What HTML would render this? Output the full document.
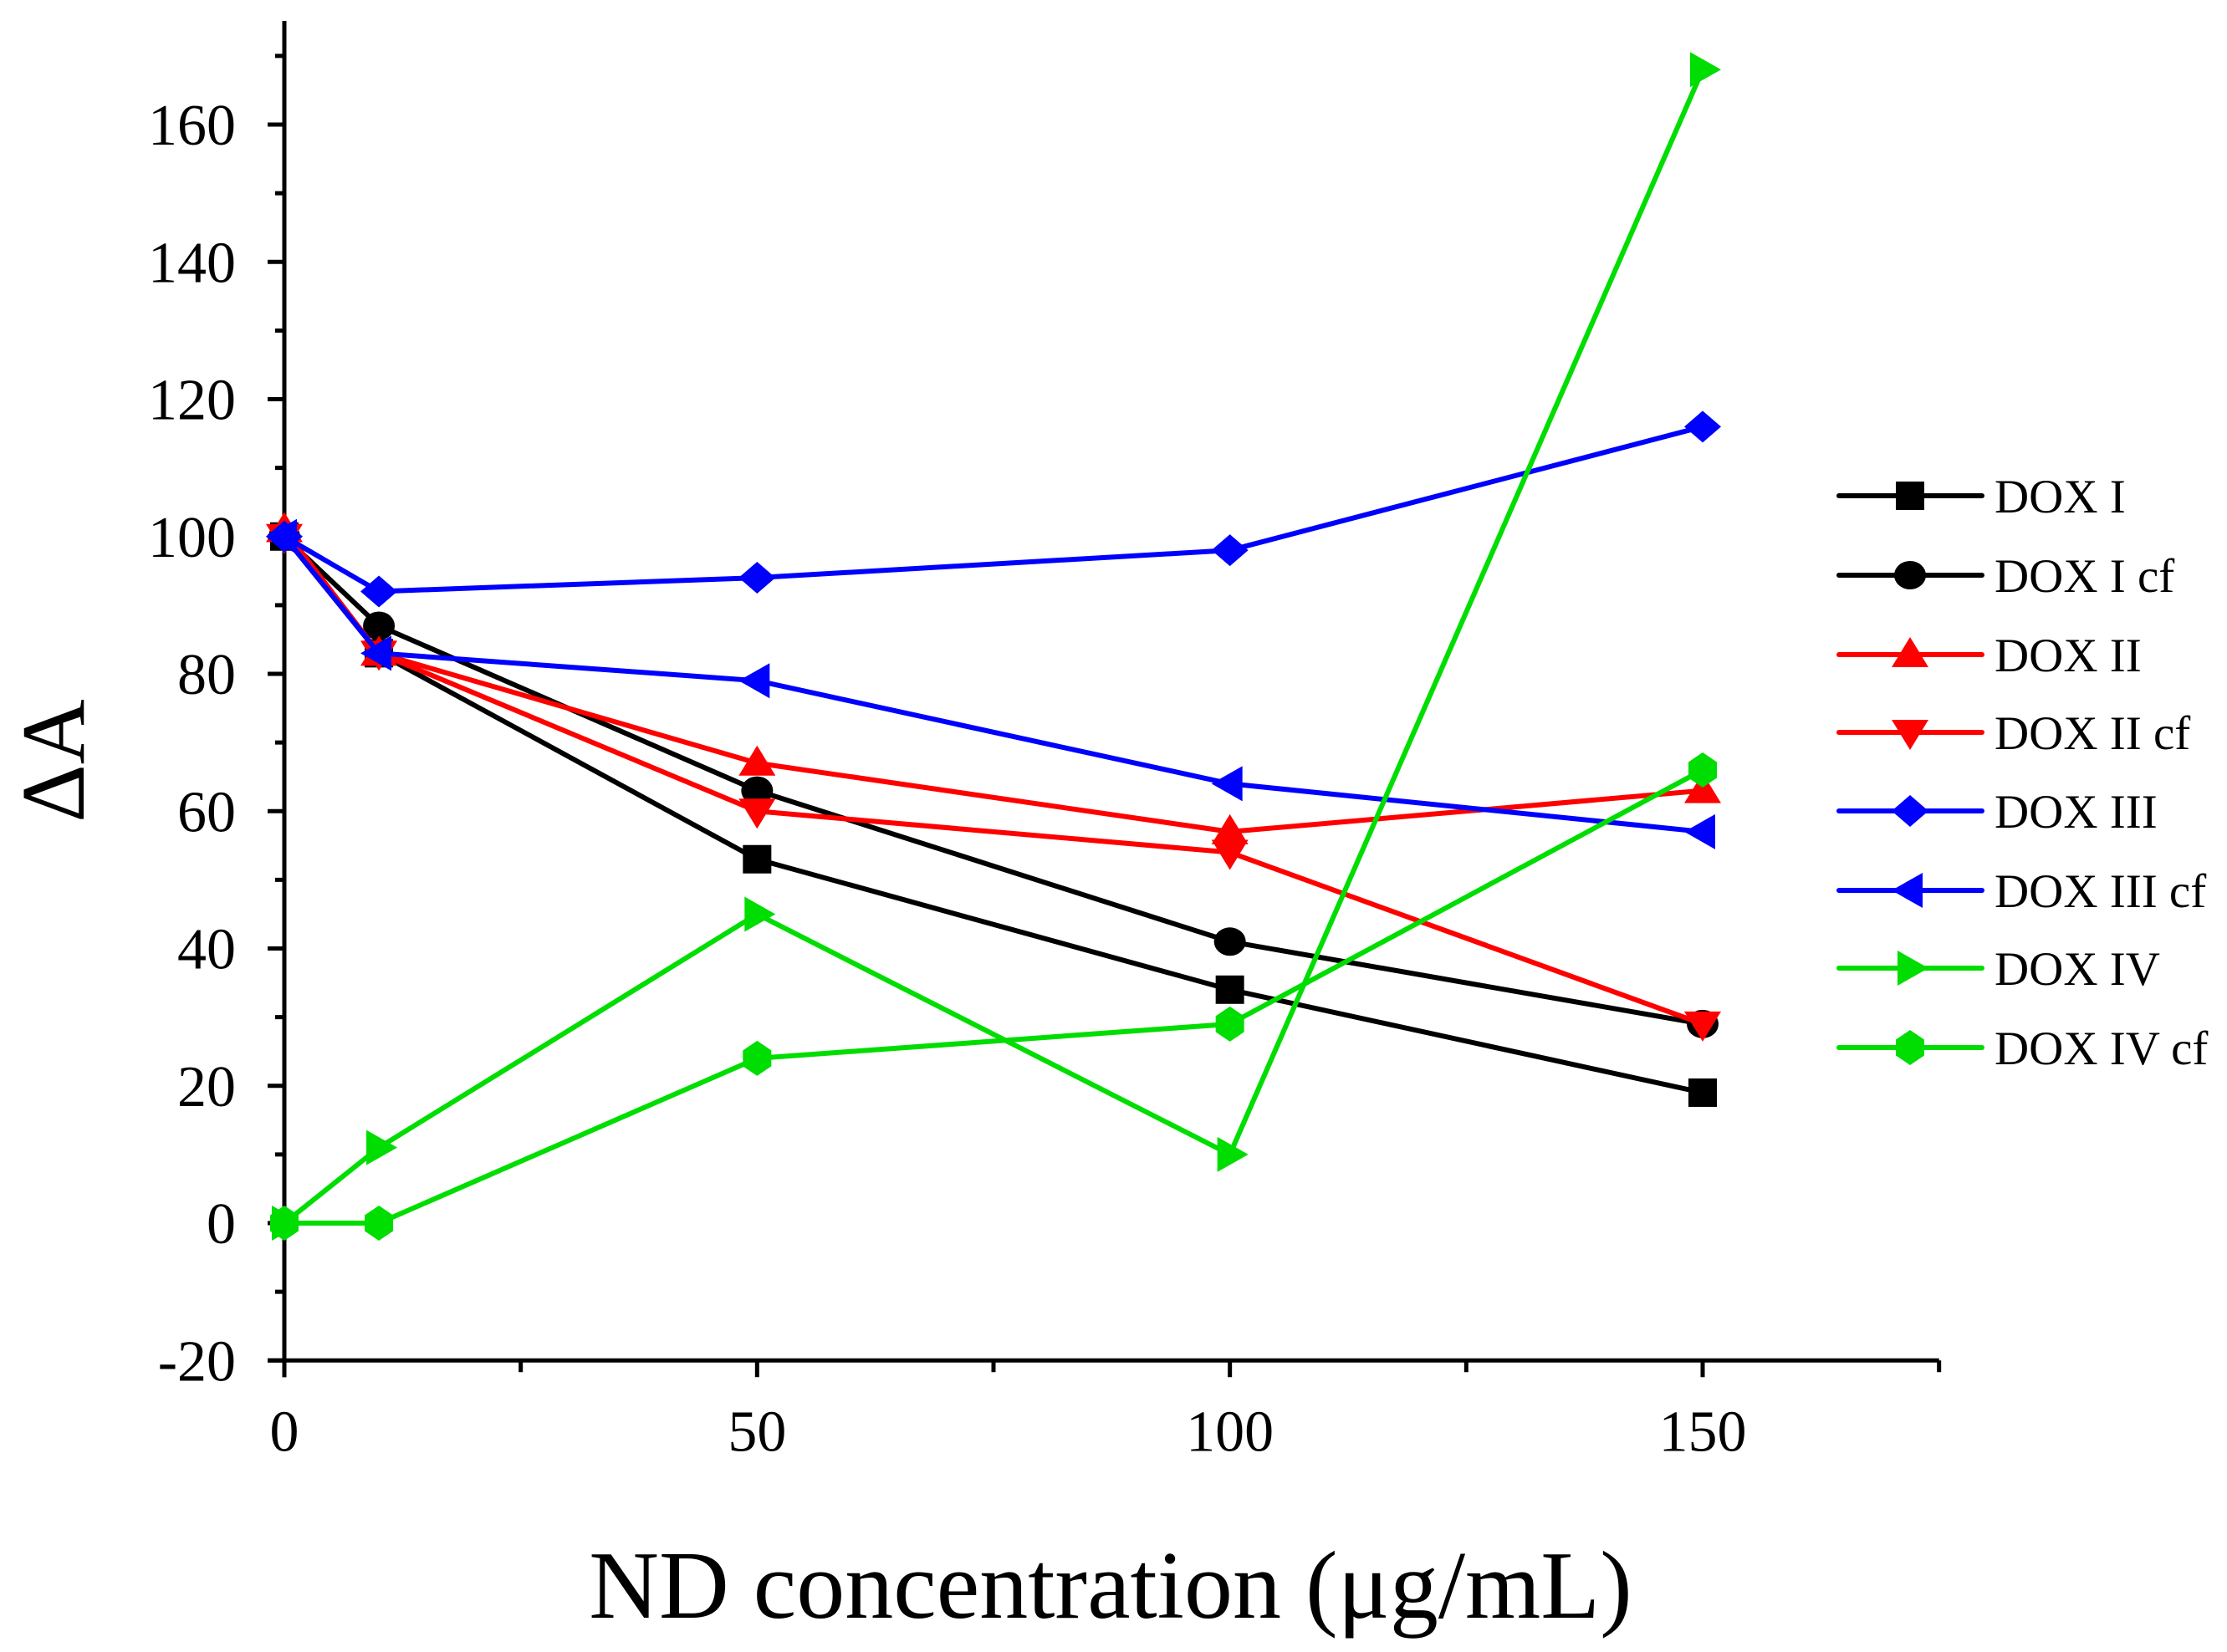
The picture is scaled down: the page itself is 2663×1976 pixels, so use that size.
<!DOCTYPE html>
<html><head><meta charset="utf-8"><style>
html,body{margin:0;padding:0;background:#fff}
svg{display:block;font-family:"Liberation Serif",serif}
</style></head><body>
<svg id="chart" width="2663" height="1976" viewBox="0 0 2663 1976" xmlns="http://www.w3.org/2000/svg">
<g id="axes"></g>
<g id="series"></g>
<g id="legend"></g>
<text x="1328" y="1935" font-size="116" text-anchor="middle">ND concentration (μg/mL)</text>
<text transform="translate(100,910) rotate(-90)" font-size="108" text-anchor="middle">ΔA</text>
</svg>
<script>
const xValues = [0, 10, 50, 100, 150];
const seriesNames = ["DOX I","DOX I cf","DOX II","DOX II cf","DOX III","DOX III cf","DOX IV","DOX IV cf"];
const doxI   = [100, 83, 53, 34, 19];
const doxIcf = [100, 87, 63, 41, 29];
const doxII  = [101, 83, 67, 57, 63];
const doxIIcf= [100, 83, 60, 54, 29];
const doxIII = [100, 92, 94, 98, 116];
const doxIIIcf=[100, 83, 79, 64, 57];
const doxIV  = [0, 11, 45, 10, 168];
const doxIVcf= [0, 0, 24, 29, 66];
const xTicks = [0, 50, 100, 150];
const yTicks = [-20, 0, 20, 40, 60, 80, 100, 120, 140, 160];

const NS="http://www.w3.org/2000/svg";
const X0=340, X1=2036, Y0=1463, Y160=149;
const sx=v=>X0+(v/150)*(X1-X0);
const sy=v=>Y0-(v/160)*(Y0-Y160);
function mk(tag,attrs,parent){const e=document.createElementNS(NS,tag);for(const k in attrs)e.setAttribute(k,attrs[k]);parent.appendChild(e);return e;}
const axes=document.getElementById('axes');
const yBottom=sy(-20), yTop=25, xRight=sx(175);
let e;
e=mk('line',{x1:X0,y1:yTop,x2:X0,y2:yBottom+20,stroke:'#000','stroke-width':5},axes);


e=mk('line',{x1:X0-20,y1:yBottom,x2:xRight,y2:yBottom,stroke:'#000','stroke-width':5},axes);


for(let v=-10;v<=170;v+=20){mk('line',{x1:X0-11,y1:sy(v),x2:X0,y2:sy(v),stroke:'#000','stroke-width':5},axes);}
yTicks.forEach(v=>{
  mk('line',{x1:X0-20,y1:sy(v),x2:X0,y2:sy(v),stroke:'#000','stroke-width':5},axes);
  const t=mk('text',{x:X0-58,y:sy(v)+24,'font-size':70,'text-anchor':'end'},axes);
  t.textContent=v;
  
  
});
[25,75,125,175].forEach(v=>{mk('line',{x1:sx(v),y1:yBottom,x2:sx(v),y2:yBottom+14,stroke:'#000','stroke-width':5},axes);});
xTicks.forEach(v=>{
  mk('line',{x1:sx(v),y1:yBottom,x2:sx(v),y2:yBottom+20,stroke:'#000','stroke-width':5},axes);
  const t=mk('text',{x:sx(v),y:yBottom+108,'font-size':70,'text-anchor':'middle'},axes);
  t.textContent=v;
  
  
});
const S=19;
function marker(shape,x,y,c,parent){
  let p;
  if(shape==='square') p=mk('rect',{x:x-S+2,y:y-S+2,width:2*S-4,height:2*S-4,fill:c},parent);
  else if(shape==='circle') p=mk('ellipse',{cx:x,cy:y,rx:S,ry:S-2,fill:c},parent);
  else {
    let pts;
    if(shape==='up') pts=[[0,-S-2],[S+3,S-4],[-S-3,S-4]];
    else if(shape==='down') pts=[[0,S+2],[S+3,-S+4],[-S-3,-S+4]];
    else if(shape==='diamond') pts=[[0,-S],[S+3,0],[0,S],[-S-3,0]];
    else if(shape==='left') pts=[[-S-3,0],[S-4,-S-2],[S-4,S+2]];
    else if(shape==='right') pts=[[S+3,0],[-S+4,-S-2],[-S+4,S+2]];
    else pts=[[0,-S-2],[S-2,-S/2],[S-2,S/2],[0,S+2],[-S+2,S/2],[-S+2,-S/2]];
    p=mk('polygon',{points:pts.map(q=>(x+q[0])+','+(y+q[1])).join(' '),fill:c},parent);
  }
  return p;
}
const allData=[doxI,doxIcf,doxII,doxIIcf,doxIII,doxIIIcf,doxIV,doxIVcf];
const colors=['#000','#000','#ff0000','#ff0000','#0000ff','#0000ff','#00dd00','#00dd00'];
const shapes=['square','circle','up','down','diamond','left','right','hex'];
const series=document.getElementById('series');
allData.forEach((d,i)=>{
  const g=mk('g',{},series);
  
  
  const pl=mk('polyline',{points:d.map((v,j)=>sx(xValues[j])+','+sy(v)).join(' '),fill:'none',stroke:colors[i],'stroke-width':6,'stroke-linejoin':'round'},g);
  
  
  d.forEach((v,j)=>{
    const m=marker(shapes[i],sx(xValues[j]),sy(v),colors[i],g);
    
    
  });
});
const legend=document.getElementById('legend');
const rows=[593,688,783,876,970,1065,1158,1253];
seriesNames.forEach((n,i)=>{
  const g=mk('g',{},legend);
  
  
  const y=rows[i];
  mk('line',{x1:2199,y1:y,x2:2370,y2:y,stroke:colors[i],'stroke-width':6,'stroke-linecap':'round'},g);
  marker(shapes[i],2284,y,colors[i],g);
  const t=mk('text',{x:2385,y:y+20,'font-size':57},g);
  t.textContent=n;
});
</script>
</body></html>
